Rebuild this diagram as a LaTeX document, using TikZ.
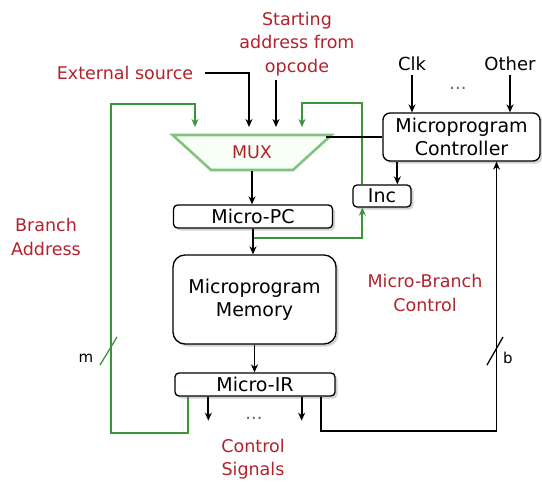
\documentclass[tikz,border=0pt]{standalone}
\usepackage{fontspec}
\setmainfont{DejaVu Sans}
\usepackage{tikz}
\usetikzlibrary{arrows.meta,positioning,calc,shapes.geometric,shadows}
\definecolor{SignalRed}{RGB}{178,34,44}
\definecolor{PathGreen}{RGB}{56,150,56}
\definecolor{MuxGreen}{RGB}{130,195,130}

\begin{document}
\begin{tikzpicture}[x=1pt,y=-1pt,>={Stealth[length=8pt,width=7pt]},line width=1.8pt,
  blk/.style={draw,line width=1.3pt,rounded corners=4pt,fill=white,inner sep=0pt,align=center,
    font=\fontsize{19}{23}\selectfont,
    drop shadow={shadow xshift=2.5pt,shadow yshift=-2.5pt,fill=black!35}},
  lbl/.style={text=SignalRed,font=\fontsize{17.5}{23.5}\selectfont,align=center},
  sig/.style={font=\fontsize{18}{22}\selectfont},
  grn/.style={PathGreen}]
\useasboundingbox (0,0) rectangle (542,482);

% blocks
\node[draw=MuxGreen,line width=2.6pt,fill=green!3,trapezium,shape border rotate=180,
  trapezium stretches=true,minimum width=160pt,minimum height=35pt,trapezium angle=42,
  text=SignalRed,font=\fontsize{17.5}{20}\selectfont] (mux) at (252,152.5) {MUX};
\node[blk,minimum width=159pt,minimum height=23pt] (pc) at (253,216.5) {Micro-PC};
\node[blk,rounded corners=12pt,minimum width=163pt,minimum height=89pt] (mem) at (254.5,299.5) {Microprogram\\Memory};
\node[blk,minimum width=160pt,minimum height=23pt] (ir) at (255,384.5) {Micro-IR};
\node[blk,rounded corners=7pt,minimum width=157pt,minimum height=48pt] (ctrl) at (461.5,137) {Microprogram\\Controller};
\node[blk,minimum width=58pt,minimum height=22pt] (inc) at (382,196) {Inc};

% labels
\node[lbl] (ext) at (125,73) {External source};
\node[lbl] (start) at (297,44) {Starting\\address from\\opcode};
\node[lbl] (braddr) at (46,237) {Branch\\Address};
\node[lbl] (mbc) at (425,293) {Micro-Branch\\Control};
\node[lbl] (ctlsig) at (253,459) {Control\\Signals};
\node[sig] (clk) at (412,64) {Clk};
\node[sig] (other) at (510,64) {Other};
\node[sig,text=black!60] (dotsA) at (458,88) {...};
\node[sig,text=black!60] (dotsB) at (254,418) {...};
\node[sig,font=\fontsize{15}{18}\selectfont] (mlbl) at (86,358) {m};
\node[sig,font=\fontsize{15}{18}\selectfont] (blbl) at (508,358) {b};

% mux inputs
\coordinate (inA) at (195,127);
\coordinate (inB) at (249,127);
\coordinate (inC) at (276,127);
\coordinate (inD) at (302,127);
\coordinate (brL) at (111,104);
\coordinate (muxsel) at (326,137);

% green paths
\draw[grn,->] ([xshift=14pt]ir.south west) -- ++(0,36) -| (brL) -| (inA);
\draw[grn,->] ($(pc.south)+(0,9)$) -| ([xshift=10pt]inc.south west);
\draw[grn,->] ([xshift=10pt]inc.north west) -- ++(0,-81) -| (inD);
\draw[grn,line width=1.3pt] (100,365) -- (117,337);

% black paths
\draw[->] ([xshift=8pt]ext.east) -| (inB);
\draw[->] (start.south -| inC) -- (inC);
\draw (ctrl.west) -- (muxsel);
\draw[->] (mux.south) -- (mux.south |- pc.north);
\draw[->] (pc.south) -- (pc.south |- mem.north);
\draw[->] (mem.south) -- (mem.south |- ir.north);
\draw[->] ([xshift=15pt]ctrl.south west) -- ([xshift=15pt]ctrl.south west |- inc.north);
\draw[->] (clk.south) -- (clk.south |- ctrl.north);
\draw[->] (other.south) -- (other.south |- ctrl.north);
\draw[->] ([xshift=34pt]ir.south west) -- ++(0,24);
\draw[->] ([xshift=-34pt]ir.south east) -- ++(0,24);
\draw[->] ([xshift=-15pt]ir.south east) -- ++(0,34) -| ([xshift=35pt]ctrl.south);
\draw[line width=1.3pt] (487,365) -- (503,337);
\end{tikzpicture}
\end{document}
